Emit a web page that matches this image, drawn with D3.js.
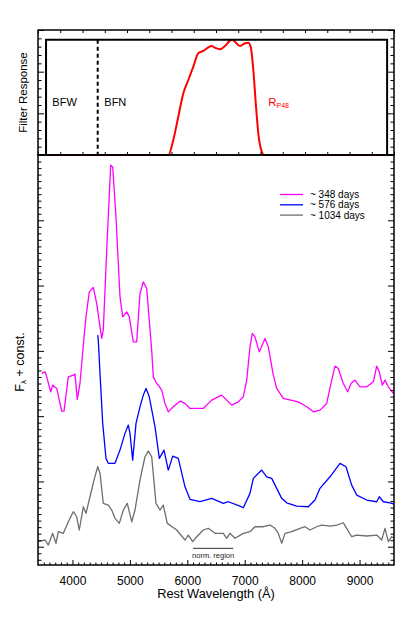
<!DOCTYPE html>
<html>
<head>
<meta charset="utf-8">
<script src="https://cdn.jsdelivr.net/npm/d3@7"></script>
<style>
  body { margin: 0; background: #fff; }
  svg text { font-family: "Liberation Sans", Arial, Helvetica, sans-serif; }
</style>
</head>
<body>
<svg id="chart" width="415" height="624"></svg>
<script>
// --- data ---
const xDomain = [3400, 9600];
const xTickValues = [4000, 5000, 6000, 7000, 8000, 9000];

// R_P48 filter response (normalised)
const filtWave = [3400, 5669, 5756, 5843, 5931, 6018, 6105, 6192, 6279, 6366, 6425, 6483, 6570, 6657, 6744, 6784, 6831, 6918, 7005, 7063, 7104, 7150, 7197, 7237, 7296, 7336, 9600];
const filtResp = [0, 0, 0.13, 0.332, 0.536, 0.651, 0.767, 0.883, 0.903, 0.935, 0.946, 0.931, 0.918, 0.946, 0.992, 1.0, 0.983, 0.946, 0.970, 0.975, 0.940, 0.738, 0.419, 0.188, 0.029, 0, 0];

// broad / narrow filter edges
const bfwEdges = [3540, 9480];
const bfnEdge = 4440;

// ~348 days
const wave348 = [3464, 3522, 3552, 3621, 3656, 3726, 3813, 3853, 3928, 4015, 4044, 4084, 4131, 4189, 4236, 4293, 4363, 4422, 4509, 4537, 4607, 4666, 4701, 4758, 4828, 4875, 4945, 4990, 5060, 5119, 5176, 5234, 5293, 5380, 5408, 5467, 5495, 5554, 5612, 5669, 5756, 5873, 5960, 6047, 6279, 6425, 6599, 6773, 6888, 6975, 7035, 7092, 7132, 7179, 7254, 7353, 7411, 7498, 7557, 7672, 7933, 8080, 8195, 8311, 8428, 8515, 8573, 8630, 8717, 8794, 8851, 8921, 9008, 9125, 9240, 9299, 9344, 9396, 9443, 9501, 9588];
const flux348 = [2.654, 2.679, 2.602, 2.373, 2.475, 2.425, 2.077, 2.077, 2.602, 2.628, 2.643, 2.256, 2.501, 3.087, 3.521, 3.903, 3.971, 3.726, 3.190, 3.317, 4.745, 5.843, 5.817, 5.051, 3.827, 3.521, 3.597, 3.521, 3.138, 3.138, 3.879, 4.056, 3.955, 3.011, 2.602, 2.500, 2.475, 2.399, 2.195, 2.066, 2.143, 2.230, 2.195, 2.118, 2.118, 2.246, 2.322, 2.169, 2.219, 2.296, 2.552, 3.061, 3.267, 3.214, 2.985, 3.190, 3.061, 2.628, 2.425, 2.272, 2.219, 2.143, 2.066, 2.092, 2.195, 2.552, 2.766, 2.731, 2.501, 2.373, 2.501, 2.552, 2.449, 2.449, 2.526, 2.766, 2.679, 2.475, 2.552, 2.449, 2.348];

// ~576 days
const wave576 = [4440, 4450, 4480, 4527, 4584, 4624, 4741, 4828, 4915, 4973, 5002, 5049, 5107, 5176, 5234, 5281, 5338, 5438, 5513, 5594, 5669, 5746, 5843, 5960, 6047, 6221, 6425, 6627, 6714, 6918, 6976, 7092, 7150, 7296, 7383, 7470, 7557, 7644, 7731, 7905, 8108, 8224, 8311, 8485, 8660, 8764, 8863, 8951, 9125, 9299, 9344, 9414, 9530, 9600];
const flux576 = [3.240, 3.164, 2.654, 1.889, 1.353, 1.277, 1.277, 1.480, 1.736, 1.863, 1.736, 1.327, 1.889, 2.143, 2.322, 2.425, 2.296, 1.837, 1.353, 1.480, 1.174, 1.388, 1.353, 0.918, 0.726, 0.689, 0.741, 0.664, 0.689, 0.623, 0.597, 0.817, 1.047, 1.174, 1.071, 1.047, 0.894, 0.741, 0.673, 0.623, 0.612, 0.715, 0.894, 1.071, 1.277, 1.225, 0.944, 0.791, 0.715, 0.689, 0.765, 0.689, 0.673, 0.654];

// ~1034 days
const wave1034 = [3400, 3522, 3579, 3656, 3713, 3754, 3841, 3928, 4015, 4074, 4119, 4189, 4236, 4306, 4375, 4440, 4480, 4537, 4624, 4684, 4741, 4816, 4886, 4955, 5032, 5089, 5176, 5263, 5321, 5380, 5455, 5525, 5582, 5652, 5816, 5960, 6018, 6094, 6164, 6279, 6366, 6483, 6627, 6686, 6744, 6831, 6976, 7092, 7179, 7324, 7440, 7528, 7585, 7644, 7702, 7818, 7963, 8050, 8137, 8254, 8341, 8485, 8602, 8717, 8776, 8863, 8951, 9125, 9299, 9386, 9443, 9501, 9560, 9600];
const flux1034 = [0.077, 0.103, 0.026, 0.205, 0.052, 0.230, 0.205, 0.383, 0.536, 0.459, 0.256, 0.612, 0.511, 0.765, 1.021, 1.225, 1.124, 0.664, 0.638, 0.562, 0.435, 0.358, 0.562, 0.664, 0.383, 0.562, 1.021, 1.378, 1.465, 1.378, 0.664, 0.562, 0.638, 0.358, 0.256, 0.103, 0.179, 0.077, 0.153, 0.256, 0.282, 0.205, 0.205, 0.129, 0.205, 0.129, 0.205, 0.230, 0.306, 0.306, 0.332, 0.282, 0.205, 0.052, 0.205, 0.230, 0.282, 0.306, 0.256, 0.306, 0.332, 0.317, 0.332, 0.367, 0.282, 0.153, 0.179, 0.164, 0.179, 0.103, 0.282, 0.077, 0.153, 0.129];

const seriesLabels = ['~ 348 days', '~ 576 days', '~ 1034 days'];
const seriesColors = ['#ff00ff', '#0000ff', '#6e6e6e'];
const normRegion = [6100, 6800];

// --- layout ---
const cfg = {left: 38, right: 394, top1: 30, bot1: 155, bot2: 565};

const svg = d3.select('#chart');

const x = d3.scaleLinear().domain(xDomain).range([cfg.left, cfg.right]);
const yF = d3.scaleLinear().domain([0, 1.085]).range([cfg.bot1, cfg.top1]);
const y = d3.scaleLinear().domain([-0.28, 6]).range([cfg.bot2, cfg.bot1]);

svg.append('defs').append('clipPath').attr('id', 'clipLow')
  .append('rect')
  .attr('x', cfg.left).attr('y', cfg.bot1)
  .attr('width', cfg.right - cfg.left).attr('height', cfg.bot2 - cfg.bot1);

// ---------- top panel ----------
let zip = (a, b) => a.map((d, i) => [d, b[i]]);

svg.append('path')
  .attr('d', d3.line().x(d => x(d[0])).y(d => yF(d[1])).curve(d3.curveMonotoneX)(zip(filtWave, filtResp)))
  .attr('fill', 'none')
  .attr('stroke', '#ff0000')
  .attr('stroke-width', 2);

svg.append('path')
  .attr('d', d3.line().x(d => x(d[0])).y(d => yF(d[1]))([[bfwEdges[0], 0], [bfwEdges[0], 1], [bfwEdges[1], 1], [bfwEdges[1], 0]]))
  .attr('fill', 'none')
  .attr('stroke', '#000')
  .attr('stroke-width', 2);

svg.append('line')
  .attr('x1', x(bfnEdge)).attr('x2', x(bfnEdge))
  .attr('y1', yF(1)).attr('y2', yF(0))
  .attr('stroke', '#000')
  .attr('stroke-width', 2)
  .attr('stroke-dasharray', '4,3');

svg.append('text').attr('x', x(3650)).attr('y', 105.5).attr('font-size', 11).text('BFW');
svg.append('text').attr('x', x(4555)).attr('y', 105.5).attr('font-size', 11).text('BFN');
let rLab = svg.append('text').attr('x', x(7410)).attr('y', 105.5).attr('font-size', 11.5).attr('fill', '#ff0000');
rLab.append('tspan').text('R');
rLab.append('tspan').attr('font-size', 7).attr('dy', 2.5).text('P48');

// top panel ticks
let topTicks = d3.range(17).map(i => xDomain[0] + i * (xDomain[1] - xDomain[0]) / 16);
svg.append('g').attr('transform', `translate(0,${cfg.top1})`)
  .call(d3.axisTop(x).tickValues(topTicks).tickSize(-3).tickFormat(''))
  .call(g => g.select('.domain').remove());
svg.append('g').attr('transform', `translate(0,${cfg.bot1})`)
  .call(d3.axisBottom(x).tickValues(topTicks).tickSize(-3).tickFormat(''))
  .call(g => g.select('.domain').remove());

let fTicks = d3.range(16).map(i => i * 1.085 / 15);
let fMajor = fTicks.filter((d, i) => i % 5 == 0);
let fMinor = fTicks.filter((d, i) => i % 5 != 0);
[[d3.axisLeft, cfg.left], [d3.axisRight, cfg.right]].forEach(([ax, px]) => {
  svg.append('g').attr('transform', `translate(${px},0)`)
    .call(ax(yF).tickValues(fMajor).tickSize(-6).tickFormat(''))
    .call(g => g.select('.domain').remove());
  svg.append('g').attr('transform', `translate(${px},0)`)
    .call(ax(yF).tickValues(fMinor).tickSize(-3.5).tickFormat(''))
    .call(g => g.select('.domain').remove());
});

svg.append('rect')
  .attr('x', cfg.left).attr('y', cfg.top1)
  .attr('width', cfg.right - cfg.left).attr('height', cfg.bot1 - cfg.top1)
  .attr('fill', 'none').attr('stroke', '#000').attr('stroke-width', 1.5);

svg.append('text')
  .attr('transform', `translate(23,${(cfg.top1 + cfg.bot1) / 2}) rotate(-90)`)
  .attr('text-anchor', 'middle')
  .attr('dominant-baseline', 'central')
  .attr('font-size', 11.5)
  .text('Filter Response');

// ---------- lower panel ----------
let spectra = [zip(wave348, flux348), zip(wave576, flux576), zip(wave1034, flux1034)];
let line = d3.line().x(d => x(d[0])).y(d => y(d[1]));

svg.append('g').attr('clip-path', 'url(#clipLow)')
  .selectAll('path')
  .data(spectra)
  .join('path')
  .attr('d', line)
  .attr('fill', 'none')
  .attr('stroke', (d, i) => seriesColors[i])
  .attr('stroke-width', 1.3)
  .attr('stroke-linejoin', 'round');

// legend
let leg = svg.append('g');
seriesLabels.forEach((s, i) => {
  let ly = 194.5 + i * 10.3;
  leg.append('line').attr('x1', 280).attr('x2', 303).attr('y1', ly).attr('y2', ly)
    .attr('stroke', seriesColors[i]).attr('stroke-width', 1.3);
  leg.append('text').attr('x', 310).attr('y', ly + 3.6).attr('font-size', 10).text(s);
});

// norm region marker
svg.append('line')
  .attr('x1', x(normRegion[0])).attr('x2', x(normRegion[1]))
  .attr('y1', y(-0.025)).attr('y2', y(-0.025))
  .attr('stroke', '#333').attr('stroke-width', 1);
svg.append('text')
  .attr('x', x((normRegion[0] + normRegion[1]) / 2)).attr('y', 557.5)
  .attr('text-anchor', 'middle').attr('font-size', 7.5).attr('fill', '#222')
  .text('norm. region');

// axes
svg.append('g').attr('transform', `translate(0,${cfg.bot2})`)
  .call(d3.axisBottom(x).tickValues(xTickValues).tickSize(-5).tickPadding(11).tickFormat(d3.format('d')))
  .call(g => g.select('.domain').remove())
  .call(g => g.selectAll('text').attr('font-size', 12).attr('fill', '#000').attr('font-family', null));
svg.append('g').attr('transform', `translate(0,${cfg.bot2})`)
  .call(d3.axisBottom(x).tickValues(d3.range(3500, 9600, 100).filter(d => d % 1000 != 0)).tickSize(-2.5).tickFormat(''))
  .call(g => g.select('.domain').remove());

let yMajor = d3.range(0, 7);
let yMinor = d3.range(-2, 60).map(d => d / 10).filter(d => Math.round(d * 10) % 10 != 0);
[[d3.axisLeft, cfg.left], [d3.axisRight, cfg.right]].forEach(([ax, px]) => {
  svg.append('g').attr('transform', `translate(${px},0)`)
    .call(ax(y).tickValues(yMajor).tickSize(-6).tickFormat(''))
    .call(g => g.select('.domain').remove());
  svg.append('g').attr('transform', `translate(${px},0)`)
    .call(ax(y).tickValues(yMinor).tickSize(-3.5).tickFormat(''))
    .call(g => g.select('.domain').remove());
});

svg.append('rect')
  .attr('x', cfg.left).attr('y', cfg.bot1)
  .attr('width', cfg.right - cfg.left).attr('height', cfg.bot2 - cfg.bot1)
  .attr('fill', 'none').attr('stroke', '#000').attr('stroke-width', 1.5);

svg.append('text')
  .attr('x', (cfg.left + cfg.right) / 2).attr('y', 598)
  .attr('text-anchor', 'middle').attr('font-size', 12.8)
  .text('Rest Wavelength (Å)');

let fl = svg.append('text')
  .attr('transform', `translate(20,362) rotate(-90)`)
  .attr('text-anchor', 'middle')
  .attr('dominant-baseline', 'central')
  .attr('font-size', 12.5);
fl.append('tspan').text('F');
fl.append('tspan').attr('font-size', 8).attr('dy', 3).text('λ');
fl.append('tspan').attr('dy', -3).text(' + const.');
</script>
</body>
</html>
